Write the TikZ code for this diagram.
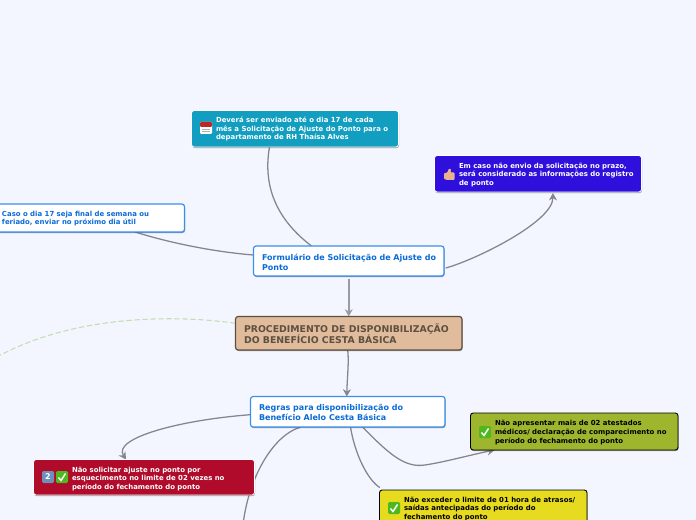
\documentclass[tikz,border=0pt]{standalone}
\usepackage{fontspec}
\setmainfont{DejaVu Sans}
\usetikzlibrary{arrows.meta,shadows,backgrounds}
\definecolor{pagebg}{HTML}{F3F6FF}
\definecolor{linkc}{HTML}{85858F}
\definecolor{linkl}{HTML}{9A9AA2}
\definecolor{tealc}{HTML}{119EC0}
\definecolor{violc}{HTML}{2E0FDC}
\definecolor{bluetxt}{HTML}{0A6BD8}
\definecolor{blueedge}{HTML}{3A90F0}
\definecolor{tanc}{HTML}{E0BB9C}
\definecolor{tanedge}{HTML}{5E5040}
\definecolor{redc}{HTML}{B00B2A}
\definecolor{oliv}{HTML}{9DB62E}
\definecolor{yelc}{HTML}{E6DB1E}
\definecolor{dashc}{HTML}{C5DDB0}
\definecolor{checkc}{HTML}{4FB81F}
\definecolor{skinc}{HTML}{E8B48C}
\definecolor{keyc}{HTML}{6F8FB8}
\tikzset{
  x=0.75pt,y=-0.75pt,
  card/.style={rectangle,rounded corners=2pt,inner sep=0pt,outer sep=0pt,
    drop shadow={shadow xshift=0.4pt,shadow yshift=-0.8pt,fill=black,opacity=0.4}},
  lab/.style={inner sep=0pt,outer sep=0pt,anchor=west,align=left},
  small/.style={font=\bfseries\fontsize{5.2}{6.5}\selectfont},
  mid/.style={font=\bfseries\fontsize{6}{7.4}\selectfont},
  link/.style={draw=linkc,line width=0.95pt,line cap=round},
  tip/.style={-{Stealth[length=5.5pt,width=6pt]}},
}
\newcommand{\diagcard}[6]{% name,x1,y1,x2,y2,style
  \node[card,minimum width={(#4-#2)*0.75pt},minimum height={(#5-#3)*0.75pt},#6]
    (#1) at ({(#2+#4)/2},{(#3+#5)/2}) {};
}
\newcommand{\okicon}[2]{%
  \fill[checkc,rounded corners=1pt] (#1-6,#2-6) rectangle (#1+6,#2+6);
  \draw[white,line width=1.1pt] (#1-3.5,#2+0.5) -- (#1-1,#2+3.5) -- (#1+3.5,#2-3.5);
}
\begin{document}
\begin{tikzpicture}
\useasboundingbox (0,0) rectangle (696,520);
\clip (0,0) rectangle (696,520);
\diagcard{teal}{191.5}{110.5}{398.5}{147}{fill=tealc,draw=white,line width=0.6pt}
\diagcard{viol}{434.5}{155.5}{641.5}{192}{fill=violc,draw=white,line width=0.6pt}
\diagcard{note}{-40}{204}{184.5}{232}{fill=white,draw=blueedge,line width=0.9pt}
\diagcard{form}{253.5}{246}{444}{276}{fill=white,draw=blueedge,line width=0.9pt}
\diagcard{main}{235.5}{316.5}{462}{350}{fill=tanc,draw=tanedge,line width=0.9pt}
\diagcard{rules}{250.5}{396.5}{445}{427}{fill=white,draw=blueedge,line width=0.9pt}
\diagcard{red}{33.5}{459.5}{254.5}{495}{fill=redc,draw=white,line width=0.6pt}
\diagcard{olive}{470.5}{413}{678}{450}{fill=oliv,draw=black,line width=0.7pt}
\diagcard{yellow}{379.5}{490}{587}{530}{fill=yelc,draw=black,line width=0.7pt}
\node[lab,small,text=white] (tealt) at (216,129) {Deverá ser enviado até o dia 17 de cada\\mês a Solicitação de Ajuste do Ponto para o\\departamento de RH Thaísa Alves};
\node[lab,small,text=white] (violt) at (459,174.7) {Em caso não envio da solicitação no prazo,\\será considerado as informações do registro\\de ponto};
\node[lab,small,text=bluetxt] (notet) at (2,218.5) {Caso o dia 17 seja final de semana ou\\feriado, enviar no próximo dia útil};
\node[lab,mid,text=bluetxt] (formt) at (262,262) {Formulário de Solicitação de Ajuste do\\Ponto};
\node[lab,text=tanedge,font=\bfseries\fontsize{7}{8.3}\selectfont] (maint) at (244,333.5) {PROCEDIMENTO DE DISPONIBILIZAÇÃO\\DO BENEFÍCIO CESTA BÁSICA};
\node[lab,mid,text=bluetxt] (rulest) at (259,412.5) {Regras para disponibilização do\\Benefício Alelo Cesta Básica};
\node[lab,small,text=white] (redt) at (72,478.7) {Não solicitar ajuste no ponto por\\esquecimento no limite de 02 vezes no\\período do fechamento do ponto};
\node[lab,small,text=black] (olivet) at (495,432.5) {Não apresentar mais de 02 atestados\\médicos/ declaração de comparecimento no\\período do fechamento do ponto};
\node[lab,small,text=black] (yellowt) at (404,509) {Não exceder o limite de 01 hora de atrasos/\\saídas antecipadas do período do\\fechamento do ponto};
% icons
\fill[white,rounded corners=0.8pt] (200,122) rectangle (212,134);
\fill[red!70!black!85!white,rounded corners=0.8pt] (200,122) rectangle (212,127);
\draw[gray!60,line width=0.3pt] (202,129) -- (210,129) (202,131.5) -- (210,131.5);
\fill[skinc,rounded corners=0.7pt] (444,173) -- (447,173) -- (449,168.5) -- (451,169) -- (450.5,172.5) -- (454.5,172.5) -- (454.5,180) -- (447,180) -- (444,179) -- cycle;
\fill[keyc,rounded corners=1pt] (42,471) rectangle (54,483);
\node[inner sep=0pt,text=white,font=\bfseries\fontsize{6}{6}\selectfont] (keycap) at (48,477) {2};
\okicon{62}{477}
\okicon{485}{432}
\okicon{394}{508}
\coordinate (offbottom) at (243,525);
\coordinate (offleft) at (-5,358);
\begin{pgfonlayer}{background}
\fill[pagebg] (0,0) rectangle (696,520);
\draw[dashc,line width=0.8pt,dash pattern=on 4pt off 2pt] ([yshift=7.5pt]main.west) .. controls (170,314) and (70,316) .. (offleft);
\draw[link] ([xshift=58.5pt]teal.south west) .. controls (262,190) and (280,222) .. ([xshift=43.5pt]form.north west);
\draw[link,tip] ([yshift=-5.2pt,xshift=1.5pt]form.east) .. controls (475,260) and (553,222) .. ([xshift=11.2pt,yshift=-0.8pt]viol.south);
\draw[link] ([xshift=-37pt]note.south east) .. controls (170,243) and (215,252) .. ([yshift=4.5pt]form.west);
\draw[draw=linkl,line width=1.3pt,tip] ([yshift=-2.2pt]form.south) -- (main.north);
\draw[link,tip] ([yshift=-0.7pt,xshift=-0.7pt]main.south) .. controls (349,365) and (347,380) .. ([xshift=-0.7pt]rules.north);
\draw[link,tip] ([yshift=-2.2pt]rules.west) .. controls (180,420) and (112,438) .. ([xshift=-13.5pt]red.north);
\draw[link] ([xshift=38pt]rules.south west) .. controls (272,435) and (248,480) .. (offbottom);
\draw[link] ([xshift=75pt]rules.south west) .. controls (355,455) and (368,480) .. ([yshift=2pt]yellow.north west);
\draw[link,tip] ([xshift=84pt]rules.south west) .. controls (390,455) and (405,468) .. (425,465) .. controls (445,462) and (470,455) .. ([xshift=18pt]olive.south west);
\end{pgfonlayer}
\end{tikzpicture}
\end{document}
